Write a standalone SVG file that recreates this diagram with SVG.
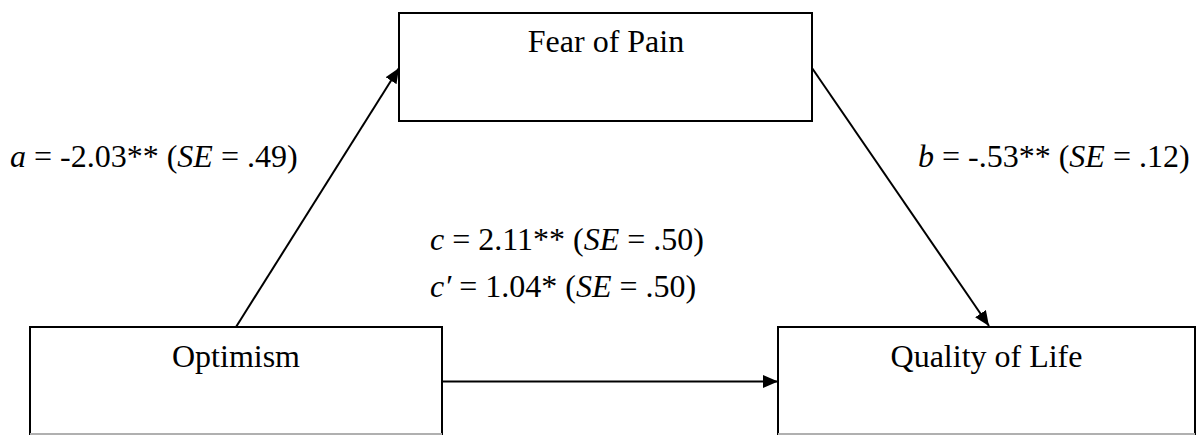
<svg xmlns="http://www.w3.org/2000/svg" width="1197" height="435" viewBox="0 0 1197 435">
<style>
.box{fill:#fff;stroke:#000;stroke-width:2}
.edge{fill:none;stroke:#000;stroke-width:2}
.cut{stroke:#b0b0b0;stroke-width:2}
.t{font-family:'Liberation Serif','Times New Roman','DejaVu Serif',serif;font-size:32px;fill:#000}
.lbl{text-anchor:middle}
.i{font-style:italic}
</style>
<defs>
<marker id="ah" viewBox="0 0 15 13" refX="15" refY="6.5" markerWidth="15" markerHeight="13" markerUnits="userSpaceOnUse" orient="auto">
<path d="M0,0 L15,6.5 L0,13 Z" fill="#000"/>
</marker>
</defs>
<rect width="1197" height="435" fill="#fff"/>
<g id="connectors">
<line class="edge" x1="236" y1="327" x2="399" y2="68" marker-end="url(#ah)"/>
<line class="edge" x1="812" y1="68" x2="989" y2="326" marker-end="url(#ah)"/>
<line class="edge" x1="442" y1="381.5" x2="778" y2="381.5" marker-end="url(#ah)"/>
</g>
<g id="node-fear">
<rect class="box" x="399" y="13" width="413" height="108"/>
<text class="t lbl" x="606" y="52" font-family="Liberation Serif, serif">Fear of Pain</text>
</g>
<g id="node-optimism">
<rect class="box" x="30" y="327" width="412" height="120"/>
<line class="cut" x1="30" y1="434" x2="442" y2="434"/>
<text class="t lbl" x="236" y="367" font-family="Liberation Serif, serif">Optimism</text>
</g>
<g id="node-qol">
<rect class="box" x="778" y="327" width="417" height="120"/>
<line class="cut" x1="778" y1="434" x2="1195" y2="434"/>
<text class="t lbl" x="986.5" y="367" font-family="Liberation Serif, serif">Quality of Life</text>
</g>
<g id="labels">
<text class="t" x="10" y="167" font-family="Liberation Serif, serif"><tspan class="i">a</tspan> = -2.03** (<tspan class="i">SE</tspan> = .49)</text>
<text class="t" x="918" y="167" font-family="Liberation Serif, serif"><tspan class="i">b</tspan> = -.53** (<tspan class="i">SE</tspan> = .12)</text>
<text class="t" x="430" y="250" font-family="Liberation Serif, serif"><tspan class="i">c</tspan> = 2.11** (<tspan class="i">SE</tspan> = .50)</text>
<text class="t" x="430" y="297" font-family="Liberation Serif, serif"><tspan class="i">c′</tspan> = 1.04* (<tspan class="i">SE</tspan> = .50)</text>
</g>
</svg>
